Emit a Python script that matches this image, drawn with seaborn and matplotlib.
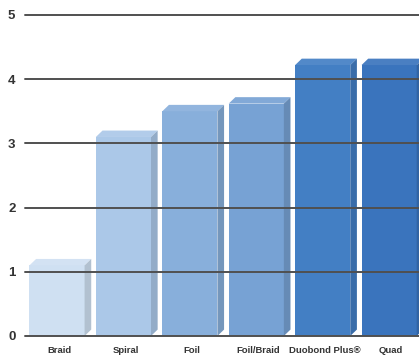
import matplotlib
matplotlib.use("Agg")
import matplotlib.pyplot as plt
import seaborn as sns
import pandas as pd
from matplotlib.patches import Polygon
import matplotlib.colors as mcolors

categories = ["Braid", "Spiral", "Foil", "Foil/Braid", "Duobond Plus®", "Quad"]
values = [1.1, 3.1, 3.5, 3.62, 4.22, 4.22]
colors = ["#cfe0f2", "#abc8e8", "#88afdb", "#77a2d4", "#437fc4", "#3a74bd"]
yticks = [0, 1, 2, 3, 4, 5]

df = pd.DataFrame({"cat": categories, "val": values})

sns.set_style("white")
plt.rcParams["font.family"] = ["Liberation Sans", "DejaVu Sans"]

fig = plt.figure(figsize=(4.19, 3.63), dpi=100)
ax = fig.add_axes([0.06, 0.0744, 0.94, 0.8843])

sns.barplot(data=df, x="cat", y="val", hue="cat", palette=colors,
            legend=False, width=0.83, ax=ax, saturation=1, zorder=1)

def shade(c, f):
    r, g, b = mcolors.to_rgb(c)
    if f < 1:
        return (r * f, g * f, b * f)
    return (r + (1 - r) * (f - 1), g + (1 - g) * (f - 1), b + (1 - b) * (f - 1))

dx, dy = 0.1, 0.1
for p, c in zip(ax.patches, colors):
    p.set_x(p.get_x() - 0.03)
    x0, w, h = p.get_x(), p.get_width(), p.get_height()
    p.set_edgecolor("none")
    top = Polygon([(x0, h), (x0 + w, h), (x0 + w + dx, h + dy), (x0 + dx, h + dy)],
                  closed=True, facecolor=shade(c, 1.08), edgecolor="none", zorder=1)
    side = Polygon([(x0 + w, 0), (x0 + w + dx, dy), (x0 + w + dx, h + dy), (x0 + w, h)],
                   closed=True, facecolor=shade(c, 0.86), edgecolor="none", zorder=1)
    ax.add_patch(top)
    ax.add_patch(side)

ax.set_xlim(-0.51, 5.42)
ax.set_ylim(0, 5)
ax.set_yticks(yticks)
ax.set_yticklabels([str(t) for t in yticks])
ax.set_xlabel("")
ax.set_ylabel("")
ax.set_axisbelow(False)
ax.yaxis.grid(True, color="#505050", linewidth=1.4)
for gl in ax.get_ygridlines():
    gl.set_clip_on(False)
for s in ax.spines.values():
    s.set_visible(False)
ax.tick_params(axis="y", length=0, pad=7, labelsize=9.5, labelcolor="#333333")
ax.tick_params(axis="x", length=0, pad=7, labelsize=6.8, labelcolor="#333333")
for t in ax.get_yticklabels() + ax.get_xticklabels():
    t.set_fontweight("bold")

fig.savefig("out.png", dpi=100)
